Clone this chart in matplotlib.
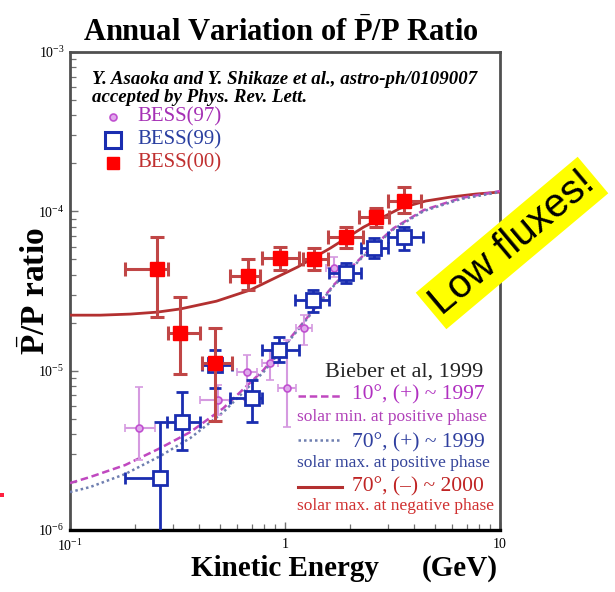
import matplotlib
matplotlib.use("Agg")
import matplotlib.pyplot as plt
import numpy as np
from matplotlib.patches import Rectangle
from matplotlib.ticker import LogLocator, NullFormatter

# ---------------- data ----------------
# BESS(00)
bess00_E = [0.254, 0.326, 0.474, 0.676, 0.943, 1.358, 1.915, 2.642, 3.568]
bess00_R = [4.34e-5, 1.72e-5, 1.12e-5, 3.93e-5, 5.09e-5, 5.02e-5, 6.90e-5, 9.21e-5, 1.161e-4]
bess00_Elo = [0.180, 0.286, 0.412, 0.557, 0.785, 1.207, 1.578, 2.201, 3.006]
bess00_Ehi = [0.286, 0.404, 0.569, 0.769, 1.156, 1.578, 2.298, 3.038, 4.282]
bess00_Rlo = [2.17e-5, 9.52e-6, 4.83e-6, 3.21e-5, 4.28e-5, 4.28e-5, 5.89e-5, 7.97e-5, 9.76e-5]
bess00_Rhi = [6.90e-5, 2.90e-5, 1.85e-5, 5.02e-5, 5.97e-5, 5.89e-5, 7.97e-5, 1.049e-4, 1.42e-4]

# BESS(99)
bess99_E = [0.263, 0.333, 0.474, 0.706, 0.933, 1.343, 1.915, 2.586, 3.568]
bess99_R = [2.12e-6, 4.76e-6, 1.08e-5, 6.73e-6, 1.35e-5, 2.77e-5, 4.10e-5, 5.89e-5, 6.90e-5]
bess99_Elo = [0.180, 0.283, 0.412, 0.557, 0.785, 1.119, 1.595, 2.249, 3.006]
bess99_Ehi = [0.263, 0.404, 0.569, 0.785, 1.156, 1.595, 2.249, 3.006, 4.375]
bess99_Rlo = [5.0e-7, 3.17e-6, 7.78e-6, 4.76e-6, 1.13e-5, 2.33e-5, 3.55e-5, 5.09e-5, 5.72e-5]
bess99_Rhi = [4.76e-6, 7.34e-6, 1.35e-5, 8.73e-6, 1.63e-5, 3.21e-5, 4.74e-5, 6.80e-5, 7.97e-5]

# BESS(97)
bess97_E = [0.210, 0.490, 0.669, 0.856, 1.027, 1.220, 1.683]
bess97_R = [4.36e-6, 6.54e-6, 9.80e-6, 1.12e-5, 7.78e-6, 1.85e-5, 4.41e-5]
bess97_Elo = [0.180, 0.404, 0.600, 0.780, 0.930, 1.120, 1.550]
bess97_Ehi = [0.249, 0.557, 0.740, 0.930, 1.120, 1.330, 1.830]
bess97_Rlo = [2.75e-6, 5.26e-6, 6.54e-6, 8.73e-6, 4.43e-6, 1.45e-5, 3.87e-5]
bess97_Rhi = [7.89e-6, 8.12e-6, 1.25e-5, 1.35e-5, 1.56e-5, 2.23e-5, 5.16e-5]

# Bieber et al. model curves
red_E = [0.1, 0.138, 0.1905, 0.254, 0.326, 0.48, 0.69, 1.144, 1.63, 2.323, 3.455, 4.519, 5.91, 7.73, 10.0]
red_R = [2.23e-5, 2.23e-5, 2.265e-5, 2.33e-5, 2.44e-5, 2.73e-5, 3.21e-5, 4.47e-5, 5.89e-5, 7.97e-5,
         1.049e-4, 1.161e-4, 1.23e-4, 1.284e-4, 1.322e-4]
mag_E = [0.1, 0.124, 0.1804, 0.2628, 0.3625, 0.5169, 0.794, 1.22, 1.683, 2.323, 3.205, 4.423, 6.58, 10.0]
mag_R = [1.97e-6, 2.15e-6, 2.555e-6, 3.266e-6, 4.117e-6, 5.82e-6, 1.009e-5, 2.018e-5, 3.445e-5, 5.316e-5,
         7.85e-5, 1.019e-4, 1.212e-4, 1.34e-4]
blu_E = [0.1, 0.124, 0.1804, 0.2628, 0.3625, 0.5169, 0.794, 1.22, 1.683, 2.323, 3.205, 4.423, 6.58, 10.0]
blu_R = [1.73e-6, 1.86e-6, 2.244e-6, 2.91e-6, 3.775e-6, 5.496e-6, 9.80e-6, 1.99e-5, 3.397e-5, 5.24e-5,
         7.74e-5, 1.004e-4, 1.195e-4, 1.322e-4]

xtick_vals = [0.1, 1, 10]
xtick_labels = [r'$10^{-1}$', '1', '10']
ytick_vals = [1e-6, 1e-5, 1e-4, 1e-3]
ytick_labels = [r'$10^{-6}$', r'$10^{-5}$', r'$10^{-4}$', r'$10^{-3}$']

# ---------------- style ----------------
plt.rcParams['font.family'] = ['Liberation Serif', 'DejaVu Serif']
plt.rcParams['mathtext.fontset'] = 'custom'
plt.rcParams['mathtext.rm'] = 'Liberation Serif'
plt.rcParams['mathtext.it'] = 'Liberation Serif:italic'
plt.rcParams['mathtext.bf'] = 'Liberation Serif:bold'

W, H = 615, 592
fig = plt.figure(figsize=(W / 100, H / 100), dpi=100)
ax = fig.add_axes([70 / W, 1 - 530 / H, 430 / W, 478 / H])
ax.set_xscale('log')
ax.set_yscale('log')
ax.set_xlim(0.1, 10)
ax.set_ylim(1e-6, 1e-3)


def err(v, lo, hi):
    v = np.asarray(v); lo = np.asarray(lo); hi = np.asarray(hi)
    return [v - lo, hi - v]


RED = '#ff0000'
RED_ERR = '#c04646'
BLUE = '#1a2db0'
MAG = '#c050d0'
MAG_ERR = '#d59ae0'

# curves
ax.plot(red_E, red_R, color='#b33030', lw=2.0, zorder=3)
ax.plot(mag_E, mag_R, color='#c048c0', lw=1.8, ls=(0, (3, 1.5)), zorder=3)
ax.plot(blu_E, blu_R, color='#6f7fb0', lw=1.8, ls=(0, (1, 1.2)), zorder=3)

# BESS97
ax.errorbar(bess97_E, bess97_R, xerr=err(bess97_E, bess97_Elo, bess97_Ehi),
            yerr=err(bess97_R, bess97_Rlo, bess97_Rhi), fmt='o', ms=5,
            mfc='#e0a8ec', mec=MAG, mew=1.2, ecolor=MAG_ERR, elinewidth=1.5,
            capsize=3, capthick=1.5, zorder=4)
# BESS99
ax.errorbar(bess99_E, bess99_R, xerr=err(bess99_E, bess99_Elo, bess99_Ehi),
            yerr=err(bess99_R, bess99_Rlo, bess99_Rhi), fmt='s', ms=10,
            mfc='white', mec=BLUE, mew=2.0, ecolor=BLUE, elinewidth=2.0,
            capsize=4, capthick=2.0, zorder=5)
# BESS00
ax.errorbar(bess00_E, bess00_R, xerr=err(bess00_E, bess00_Elo, bess00_Ehi),
            yerr=err(bess00_R, bess00_Rlo, bess00_Rhi), fmt='s', ms=10,
            mfc=RED, mec=RED, ecolor=RED_ERR, elinewidth=2.2,
            capsize=5, capthick=2.2, zorder=6)

# axes styling
for s in ['left', 'top', 'right']:
    ax.spines[s].set_color('#505050')
    ax.spines[s].set_linewidth(2.0)
ax.spines['bottom'].set_color('black')
ax.spines['bottom'].set_linewidth(2.4)

ax.set_xticks(xtick_vals)
ax.set_xticklabels(xtick_labels)
ax.set_yticks(ytick_vals)
ax.set_yticklabels(ytick_labels)
ax.xaxis.set_minor_locator(LogLocator(base=10, subs=np.arange(2, 10)))
ax.yaxis.set_minor_locator(LogLocator(base=10, subs=np.arange(2, 10)))
ax.xaxis.set_minor_formatter(NullFormatter())
ax.yaxis.set_minor_formatter(NullFormatter())
ax.tick_params(which='both', direction='in', top=False, right=False, color='#707070')
ax.tick_params(which='major', length=6, width=1.0, labelsize=10)
ax.tick_params(which='minor', length=4, width=0.9)
ax.tick_params(axis='y', pad=4)
ax.tick_params(axis='x', pad=6)


def ax_x(px):
    return (px - 70) / 430


def ax_y(py):
    return (530 - py) / 478


# in-plot legend
leg_x = ax_x(113)
txt_x = ax_x(137)
rows = [ax_y(117), ax_y(140), ax_y(163)]
ax.plot([leg_x], [rows[0]], 'o', ms=5, mfc='#e0a8ec', mec=MAG, mew=1.2, transform=ax.transAxes, clip_on=False)
ax.plot([leg_x], [rows[1]], 's', ms=12, mfc='white', mec=BLUE, mew=2.2, transform=ax.transAxes, clip_on=False)
ax.plot([leg_x], [rows[2]], 's', ms=9, mfc=RED, mec=RED, transform=ax.transAxes, clip_on=False)
for y, lab, c in zip(rows, ['BESS(97)', 'BESS(99)', 'BESS(00)'], ['#a530b5', '#2a3fa0', '#c03030']):
    ax.text(txt_x, y, lab, color=c, fontsize=15, va='center', ha='left', transform=ax.transAxes)

# citation
ax.text(ax_x(92), ax_y(79), 'Y. Asaoka and Y. Shikaze et al., astro-ph/0109007',
        fontsize=13.6, style='italic', weight='bold', va='center', ha='left', transform=ax.transAxes)
ax.text(ax_x(92), ax_y(97), 'accepted by Phys. Rev. Lett.',
        fontsize=13.6, style='italic', weight='bold', va='center', ha='left', transform=ax.transAxes)

# Bieber legend block
ax.text(ax_x(483), ax_y(372), 'Bieber et al, 1999', fontsize=16, ha='right', va='center',
        transform=ax.transAxes, color='#222222')
ax.plot([ax_x(298), ax_x(340)], [ax_y(396)] * 2, color='#c048c0', lw=1.8, ls=(0, (3, 1.5)),
        transform=ax.transAxes)
ax.text(ax_x(352), ax_y(395), '10°, (+) ~ 1997', fontsize=15.5, ha='left', va='center',
        color='#b030c0', transform=ax.transAxes)
ax.text(ax_x(297), ax_y(417), 'solar min. at positive phase', fontsize=12.5, ha='left', va='center',
        color='#b040b8', transform=ax.transAxes)
ax.plot([ax_x(298), ax_x(340)], [ax_y(440)] * 2, color='#6f7fb0', lw=1.8, ls=(0, (1, 1.2)),
        transform=ax.transAxes)
ax.text(ax_x(352), ax_y(443), '70°, (+) ~ 1999', fontsize=15.5, ha='left', va='center',
        color='#2f3f9f', transform=ax.transAxes)
ax.text(ax_x(297), ax_y(463), 'solar max. at positive phase', fontsize=12.5, ha='left', va='center',
        color='#34449a', transform=ax.transAxes)
ax.plot([ax_x(298), ax_x(342)], [ax_y(487)] * 2, color='#b33030', lw=2.2, transform=ax.transAxes)
ax.text(ax_x(352), ax_y(487), '70°, (\u2013) ~ 2000', fontsize=15.5, ha='left', va='center',
        color='#c02424', transform=ax.transAxes)
ax.text(ax_x(297), ax_y(506), 'solar max. at negative phase', fontsize=12.5, ha='left', va='center',
        color='#d03030', transform=ax.transAxes)

# titles / labels
fig.text(281 / W, 1 - 33 / H, r'Annual Variation of $\bar{\mathbf{P}}$/P Ratio', fontsize=22,
         weight='bold', ha='center', va='center')
fig.text(36 / W, 1 - 291 / H, r'$\bar{\mathbf{P}}$/P ratio', fontsize=24, weight='bold',
         rotation=90, ha='center', va='center')
fig.text(285 / W, 1 - 569 / H, 'Kinetic Energy', fontsize=21, weight='bold', ha='center', va='center')
fig.text(460 / W, 1 - 569 / H, '(GeV)', fontsize=21, weight='bold', ha='center', va='center')

# Low fluxes! sticker
fig.text(512 / W, 1 - 243 / H, 'Low fluxes!', fontsize=29, family='Liberation Sans', rotation=40,
         rotation_mode='anchor', ha='center', va='center', color='black',
         bbox=dict(boxstyle='square,pad=0.12', facecolor='#ffff00', edgecolor='none'))

# small red mark at left edge
fig.add_artist(Rectangle((0, 1 - 497 / H), 4 / W, 4 / H, transform=fig.transFigure,
                         facecolor='#ff2040', edgecolor='none'))

fig.savefig('out.png', dpi=100)
